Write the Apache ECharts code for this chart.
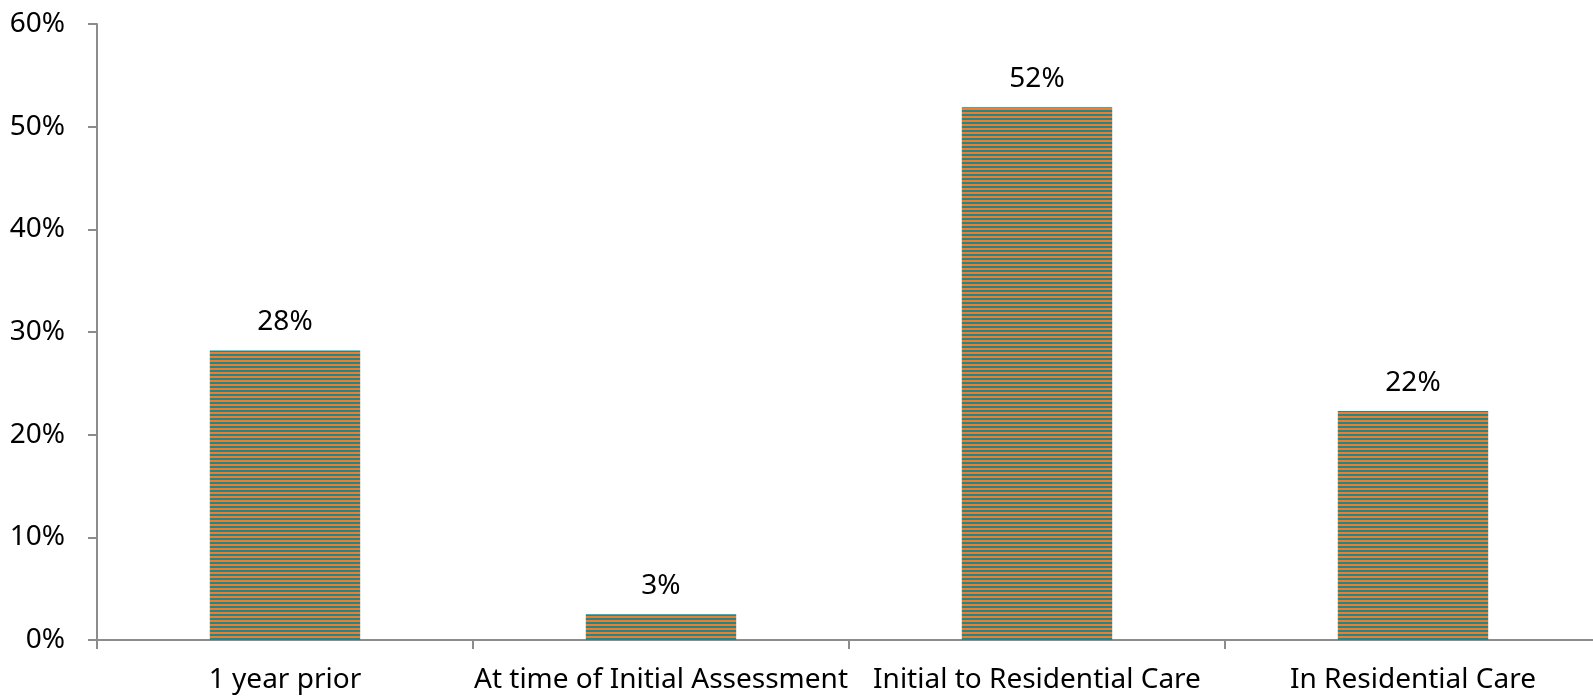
<!DOCTYPE html>
<html>
<head>
<meta charset="utf-8">
<script src="https://cdn.jsdelivr.net/npm/echarts@6/dist/echarts.min.js"></script>
<style>
html,body{margin:0;padding:0;background:#fff;}
#chart{width:1593px;height:697px;}
</style>
</head>
<body>
<div id="chart"></div>
<script>
const categories = ['1 year prior', 'At time of Initial Assessment', 'Initial to Residential Care', 'In Residential Care'];
const values = [28.2, 2.5, 51.9, 22.3];
const yTicks = [0, 10, 20, 30, 40, 50, 60];

function stripePattern() {
  const c = document.createElement('canvas');
  c.width = 4; c.height = 4;
  const ctx = c.getContext('2d');
  ctx.fillStyle = '#F17D2C';
  ctx.fillRect(0, 0, 4, 2);
  ctx.fillStyle = '#20878C';
  ctx.fillRect(0, 2, 4, 2);
  return c;
}

const font = '"Noto Sans", "Open Sans", sans-serif';
const chart = echarts.init(document.getElementById('chart'));
chart.setOption({
  animation: false,
  grid: { left: 97, width: 1504, top: 24, height: 616, containLabel: false, outerBoundsMode: 'none' },
  xAxis: {
    type: 'category',
    data: categories,
    axisLine: { lineStyle: { color: '#8c8c8c', width: 2 } },
    axisTick: { show: true, length: 9, lineStyle: { color: '#8c8c8c', width: 2 } },
    axisLabel: { color: '#000', fontFamily: font, fontSize: 28, margin: 26, interval: 0 }
  },
  yAxis: {
    type: 'value',
    min: yTicks[0], max: yTicks[yTicks.length - 1], interval: 10,
    axisLine: { show: true, lineStyle: { color: '#8c8c8c', width: 2 } },
    axisTick: { show: true, length: 9, lineStyle: { color: '#8c8c8c', width: 2 } },
    splitLine: { show: false },
    axisLabel: { color: '#000', fontFamily: font, fontSize: 28, margin: 32, formatter: v => v + '%' }
  },
  series: [{
    type: 'bar',
    data: values,
    barWidth: '40%',
    itemStyle: { color: { image: stripePattern(), repeat: 'repeat' } },
    label: {
      show: true, position: 'top', distance: 14,
      color: '#000', fontFamily: font, fontSize: 28,
      formatter: p => Math.round(p.value) + '%'
    }
  }]
});
</script>
</body>
</html>
